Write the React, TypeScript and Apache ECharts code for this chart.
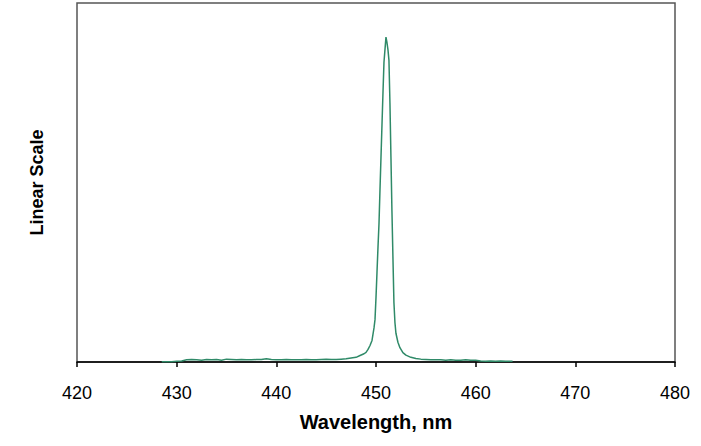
import { useEffect, useRef } from 'react'
import * as echarts from 'echarts'

// spectrum: wavelength (nm) and relative intensity
const wavelengths = [
  428.5, 429.0, 429.5, 430.0, 430.5, 431.0, 431.5, 432.0, 432.5, 433.0,
  433.5, 434.0, 434.5, 435.0, 435.5, 436.0, 436.5, 437.0, 437.5, 438.0,
  438.5, 439.0, 439.5, 440.0, 440.5, 441.0, 441.5, 442.0, 442.5, 443.0,
  443.5, 444.0, 444.5, 445.0, 445.5, 446.0, 446.5, 447.0, 447.5, 448.0,
  448.4, 448.8, 449.0, 449.2, 449.4, 449.6, 449.8, 449.9, 450.0, 450.1,
  450.2, 450.3, 450.4, 450.5, 450.6, 450.7, 450.8, 450.9, 451.0, 451.1,
  451.2, 451.3, 451.4, 451.5, 451.6, 451.7, 451.8, 451.9, 452.0, 452.2,
  452.4, 452.7, 453.0, 453.5, 454.0, 454.5, 455.0, 455.5, 456.0, 456.5,
  457.0, 457.5, 458.0, 458.5, 459.0, 459.5, 460.0, 460.5, 461.0, 461.5,
  462.0, 462.5, 463.0, 463.7,
]
const intensity = [
  0.1, 0.1, 0.1, 0.2, 0.3, 0.6, 0.7, 0.6, 0.5, 0.7,
  0.6, 0.7, 0.5, 0.8, 0.7, 0.6, 0.7, 0.6, 0.6, 0.7,
  0.7, 0.9, 0.7, 0.6, 0.6, 0.7, 0.6, 0.6, 0.6, 0.7,
  0.6, 0.6, 0.7, 0.8, 0.7, 0.7, 0.8, 0.9, 1.1, 1.3,
  1.8, 2.3, 2.7, 3.5, 4.6, 6.0, 9.5, 11.8, 18, 25,
  32, 38.5, 48, 57, 66, 75, 83.5, 87, 90.5, 89,
  87, 84, 72, 57, 42, 29, 16.5, 11, 8, 5.5,
  4, 2.6, 1.9, 1.3, 1.0, 0.8, 0.7, 0.6, 0.6, 0.6,
  0.5, 0.6, 0.5, 0.5, 0.6, 0.5, 0.5, 0.3, 0.2, 0.3,
  0.2, 0.3, 0.2, 0.2,
]

const font = "'Liberation Sans', Arial, sans-serif"

export default function App() {
  const ref = useRef<HTMLDivElement>(null)

  useEffect(() => {
    document.body.style.margin = '0'
    if (!ref.current) return
    const chart = echarts.init(ref.current, undefined, { renderer: 'svg' })

    chart.setOption({
      animation: false,
      backgroundColor: '#fff',
      grid: {
        show: true,
        left: 77,
        right: 26,
        top: 3,
        bottom: 84,
        borderColor: '#555',
        borderWidth: 1.5,
      },
      xAxis: {
        type: 'value',
        min: 420,
        max: 480,
        interval: 10,
        name: 'Wavelength, nm',
        nameLocation: 'middle',
        nameGap: 50,
        nameTextStyle: { fontFamily: font, fontSize: 20, fontWeight: 'bold', color: '#000' },
        axisLine: { lineStyle: { color: '#000', width: 1.5 } },
        axisTick: { show: true, inside: false, length: 5, lineStyle: { color: '#000', width: 1.5 } },
        axisLabel: { fontFamily: font, fontSize: 18, color: '#000', margin: 22 },
        splitLine: { show: false },
      },
      yAxis: {
        type: 'value',
        min: 0,
        max: 100,
        name: 'Linear Scale',
        nameLocation: 'middle',
        nameRotate: 90,
        nameGap: 31,
        nameTextStyle: { fontFamily: font, fontSize: 18, fontWeight: 'bold', color: '#000' },
        axisLine: { show: false },
        axisTick: { show: false },
        axisLabel: { show: false },
        splitLine: { show: false },
      },
      series: [
        {
          type: 'line',
          data: wavelengths.map((w, i) => [w, intensity[i]]),
          showSymbol: false,
          smooth: false,
          lineStyle: { color: '#2f8a68', width: 1.5 },
        },
      ],
    })

    return () => chart.dispose()
  }, [])

  return <div ref={ref} style={{ width: 701, height: 446 }} />
}
